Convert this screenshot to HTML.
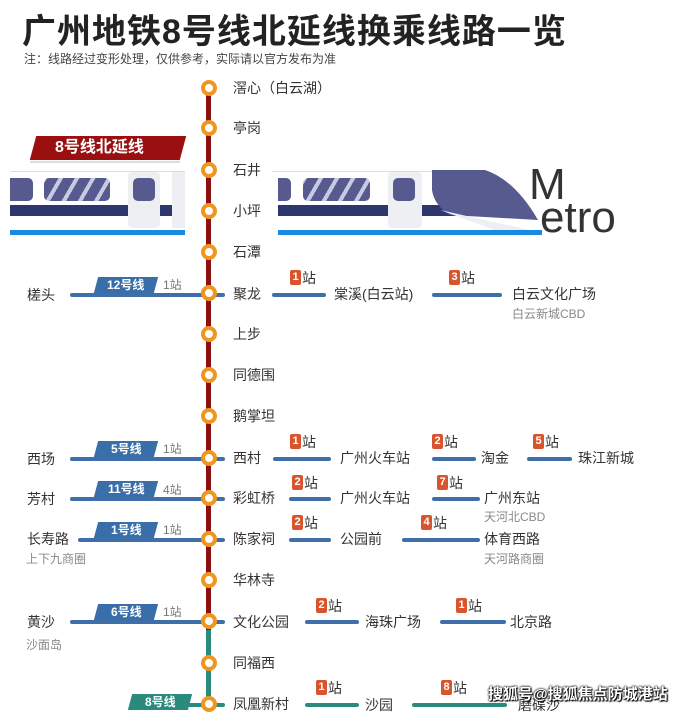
<!DOCTYPE html>
<html><head><meta charset="utf-8"><style>
*{margin:0;padding:0;box-sizing:border-box}
body{width:687px;height:710px;overflow:hidden;background:#fff;position:relative;font-family:"Liberation Sans","Noto Sans CJK SC",sans-serif;color:#333}
.a{position:absolute;white-space:nowrap}
.st{position:absolute;font-size:14px;color:#333;white-space:nowrap;line-height:16px}
.sub{position:absolute;font-size:12px;color:#888;white-space:nowrap}
.ln{position:absolute;height:4px;background:#3e6fa8;border-radius:2px}
.tag{position:absolute;height:16px;background:#3a6ea8;color:#fff;font-size:12px;font-weight:bold;line-height:16px;text-align:center;transform:skewX(-15deg)}
.tag span{display:inline-block;transform:skewX(15deg)}
.cnt{position:absolute;font-size:12px;color:#777}
.bd{position:absolute;font-size:14px;color:#333;white-space:nowrap;line-height:16px}
.bd b{display:inline-block;background:#d9542c;color:#fff;font-size:11px;width:11px;height:15px;line-height:15px;text-align:center;border-radius:2px;margin-right:1px;vertical-align:top}
.c{position:absolute;width:16px;height:16px;border-radius:50%;border:4px solid #f0961e;background:#fff}
</style></head><body>
<div class="a" style="left:22px;top:4px;font-size:34px;font-weight:bold;color:#222;letter-spacing:1px">广州地铁8号线北延线换乘线路一览</div>
<div class="a" style="left:24px;top:50px;font-size:12px;color:#444">注：线路经过变形处理，仅供参考，实际请以官方发布为准</div>

<!-- train -->
<div class="a" style="left:10px;top:171px;width:175px;height:1px;background:#ddd"></div>
<div class="a" style="left:272px;top:171px;width:160px;height:1px;background:#ddd"></div>
<div class="a" style="left:10px;top:178px;width:23px;height:23px;background:#565a8f;border-radius:0 5px 5px 0"></div>
<div class="a" style="left:44px;top:178px;width:66px;height:23px;background:repeating-linear-gradient(-60deg,#565a8f 0 10px,#c8cae0 10px 14px);border-radius:5px"></div>
<div class="a" style="left:128px;top:172px;width:32px;height:56px;background:#eeeff2;border-radius:4px"></div>
<div class="a" style="left:133px;top:178px;width:22px;height:23px;background:#565a8f;border-radius:5px"></div>
<div class="a" style="left:172px;top:172px;width:13px;height:56px;background:#eeeff2"></div>
<div class="a" style="left:10px;top:205px;width:118px;height:11px;background:#2e3670"></div>
<div class="a" style="left:160px;top:205px;width:12px;height:11px;background:#2e3670"></div>
<div class="a" style="left:10px;top:230px;width:175px;height:5px;background:#1a8ae0"></div>
<div class="a" style="left:278px;top:178px;width:13px;height:23px;background:#565a8f;border-radius:0 5px 5px 0"></div>
<div class="a" style="left:303px;top:178px;width:67px;height:23px;background:repeating-linear-gradient(-60deg,#565a8f 0 10px,#c8cae0 10px 14px);border-radius:5px"></div>
<div class="a" style="left:388px;top:172px;width:34px;height:56px;background:#eeeff2;border-radius:4px"></div>
<div class="a" style="left:393px;top:178px;width:22px;height:23px;background:#565a8f;border-radius:5px"></div>
<div class="a" style="left:278px;top:205px;width:110px;height:11px;background:#2e3670"></div>
<div class="a" style="left:422px;top:205px;width:100px;height:11px;background:#2e3670"></div>
<svg class="a" style="left:430px;top:170px" width="115" height="70"><path d="M2 0 L55 0 Q85 10 108 50 L20 45 Q4 35 2 20Z" fill="#565a8f"/><path d="M10 40 L108 62 L70 62 Z" fill="#eeeff2"/></svg>
<div class="a" style="left:278px;top:230px;width:264px;height:5px;background:#1a8ae0"></div>
<div class="a" style="left:529px;top:160px;font-size:44px;color:#333;line-height:50px">M</div>
<div class="a" style="left:540px;top:193px;font-size:44px;color:#333;line-height:50px">etro</div>

<!-- red label -->
<div class="a" style="left:33px;top:136px;width:150px;height:24px;background:#9a0f0f;transform:skewX(-15deg)"></div>
<div class="a" style="left:30px;top:161px;width:150px;height:2px;background:#ddd"></div>
<div class="a" style="left:55px;top:137px;font-size:16px;font-weight:bold;color:#fff;line-height:22px">8号线北延线</div>

<!-- trunk -->
<div class="a" style="left:206px;top:88px;width:5px;height:545px;background:#8b1010"></div>
<div class="a" style="left:206px;top:630px;width:5px;height:80px;background:#2a8a7c"></div>

<!-- left branches -->
<div class="ln" style="left:70px;top:293px;width:133px"></div>
<div class="ln" style="left:70px;top:457px;width:133px"></div>
<div class="ln" style="left:70px;top:497px;width:133px"></div>
<div class="ln" style="left:78px;top:538px;width:125px"></div>
<div class="ln" style="left:70px;top:620px;width:133px"></div>
<div class="ln" style="left:130px;top:703px;width:73px;background:#2a8a7c"></div>
<div class="tag" style="left:96px;top:277px;width:60px"><span>12号线</span></div>
<div class="tag" style="left:96px;top:441px;width:60px"><span>5号线</span></div>
<div class="tag" style="left:96px;top:481px;width:60px"><span>11号线</span></div>
<div class="tag" style="left:96px;top:522px;width:60px"><span>1号线</span></div>
<div class="tag" style="left:96px;top:604px;width:60px"><span>6号线</span></div>
<div class="tag" style="left:130px;top:694px;width:60px;background:#2a8a7c"><span>8号线</span></div>
<div class="cnt" style="left:163px;top:276px">1站</div>
<div class="cnt" style="left:163px;top:440px">1站</div>
<div class="cnt" style="left:163px;top:481px">4站</div>
<div class="cnt" style="left:163px;top:521px">1站</div>
<div class="cnt" style="left:163px;top:603px">1站</div>
<div class="st" style="left:27px;top:287px">槎头</div>
<div class="st" style="left:27px;top:451px">西场</div>
<div class="st" style="left:27px;top:491px">芳村</div>
<div class="st" style="left:27px;top:531px">长寿路</div>
<div class="sub" style="left:26px;top:550px">上下九商圈</div>
<div class="st" style="left:27px;top:614px">黄沙</div>
<div class="sub" style="left:26px;top:636px">沙面岛</div>

<!-- right short stubs -->
<div class="ln" style="left:215px;top:293px;width:10px"></div>
<div class="ln" style="left:215px;top:457px;width:10px"></div>
<div class="ln" style="left:215px;top:497px;width:10px"></div>
<div class="ln" style="left:215px;top:538px;width:10px"></div>
<div class="ln" style="left:215px;top:620px;width:10px"></div>
<div class="ln" style="left:215px;top:703px;width:10px;background:#2a8a7c"></div>

<!-- stations -->
<div class="c" style="left:201px;top:80px"></div>
<div class="c" style="left:201px;top:120px"></div>
<div class="c" style="left:201px;top:162px"></div>
<div class="c" style="left:201px;top:203px"></div>
<div class="c" style="left:201px;top:244px"></div>
<div class="c" style="left:201px;top:285px"></div>
<div class="c" style="left:201px;top:326px"></div>
<div class="c" style="left:201px;top:367px"></div>
<div class="c" style="left:201px;top:408px"></div>
<div class="c" style="left:201px;top:450px"></div>
<div class="c" style="left:201px;top:490px"></div>
<div class="c" style="left:201px;top:531px"></div>
<div class="c" style="left:201px;top:572px"></div>
<div class="c" style="left:201px;top:613px"></div>
<div class="c" style="left:201px;top:655px"></div>
<div class="c" style="left:201px;top:696px"></div>

<div class="st" style="left:233px;top:80px">滘心（白云湖）</div>
<div class="st" style="left:233px;top:120px">亭岗</div>
<div class="st" style="left:233px;top:162px">石井</div>
<div class="st" style="left:233px;top:203px">小坪</div>
<div class="st" style="left:233px;top:244px">石潭</div>
<div class="st" style="left:233px;top:286px">聚龙</div>
<div class="st" style="left:233px;top:326px">上步</div>
<div class="st" style="left:233px;top:367px">同德围</div>
<div class="st" style="left:233px;top:408px">鹅掌坦</div>
<div class="st" style="left:233px;top:450px">西村</div>
<div class="st" style="left:233px;top:490px">彩虹桥</div>
<div class="st" style="left:233px;top:531px">陈家祠</div>
<div class="st" style="left:233px;top:572px">华林寺</div>
<div class="st" style="left:233px;top:614px">文化公园</div>
<div class="st" style="left:233px;top:655px">同福西</div>
<div class="st" style="left:233px;top:696px">凤凰新村</div>

<!-- right rows -->
<div class="ln" style="left:272px;top:293px;width:54px"></div>
<div class="bd" style="left:290px;top:270px"><b>1</b>站</div>
<div class="st" style="left:334px;top:286px">棠溪(白云站)</div>
<div class="ln" style="left:432px;top:293px;width:70px"></div>
<div class="bd" style="left:449px;top:270px"><b>3</b>站</div>
<div class="st" style="left:512px;top:286px">白云文化广场</div>
<div class="sub" style="left:512px;top:305px">白云新城CBD</div>

<div class="ln" style="left:273px;top:457px;width:58px"></div>
<div class="bd" style="left:290px;top:434px"><b>1</b>站</div>
<div class="st" style="left:340px;top:450px">广州火车站</div>
<div class="ln" style="left:432px;top:457px;width:44px"></div>
<div class="bd" style="left:432px;top:434px"><b>2</b>站</div>
<div class="st" style="left:481px;top:450px">淘金</div>
<div class="ln" style="left:527px;top:457px;width:45px"></div>
<div class="bd" style="left:533px;top:434px"><b>5</b>站</div>
<div class="st" style="left:578px;top:450px">珠江新城</div>

<div class="ln" style="left:289px;top:497px;width:42px"></div>
<div class="bd" style="left:292px;top:475px"><b>2</b>站</div>
<div class="st" style="left:340px;top:490px">广州火车站</div>
<div class="ln" style="left:432px;top:497px;width:48px"></div>
<div class="bd" style="left:437px;top:475px"><b>7</b>站</div>
<div class="st" style="left:484px;top:490px">广州东站</div>
<div class="sub" style="left:484px;top:508px">天河北CBD</div>

<div class="ln" style="left:289px;top:538px;width:42px"></div>
<div class="bd" style="left:292px;top:515px"><b>2</b>站</div>
<div class="st" style="left:340px;top:531px">公园前</div>
<div class="ln" style="left:402px;top:538px;width:78px"></div>
<div class="bd" style="left:421px;top:515px"><b>4</b>站</div>
<div class="st" style="left:484px;top:531px">体育西路</div>
<div class="sub" style="left:484px;top:550px">天河路商圈</div>

<div class="ln" style="left:305px;top:620px;width:54px"></div>
<div class="bd" style="left:316px;top:598px"><b>2</b>站</div>
<div class="st" style="left:365px;top:614px">海珠广场</div>
<div class="ln" style="left:440px;top:620px;width:66px"></div>
<div class="bd" style="left:456px;top:598px"><b>1</b>站</div>
<div class="st" style="left:510px;top:614px">北京路</div>

<div class="ln" style="left:305px;top:703px;width:54px;background:#2a8a7c"></div>
<div class="bd" style="left:316px;top:680px"><b>1</b>站</div>
<div class="st" style="left:365px;top:697px">沙园</div>
<div class="ln" style="left:412px;top:703px;width:95px;background:#2a8a7c"></div>
<div class="bd" style="left:441px;top:680px"><b>8</b>站</div>
<div class="st" style="left:518px;top:697px">磨碟沙</div>
<div class="a" style="left:488px;top:683px;font-size:15px;font-weight:bold;color:#fff;text-shadow:0 0 2px #000,0 0 2px #000,1px 1px 1px #000">搜狐号@搜狐焦点防城港站</div>
</body></html>
